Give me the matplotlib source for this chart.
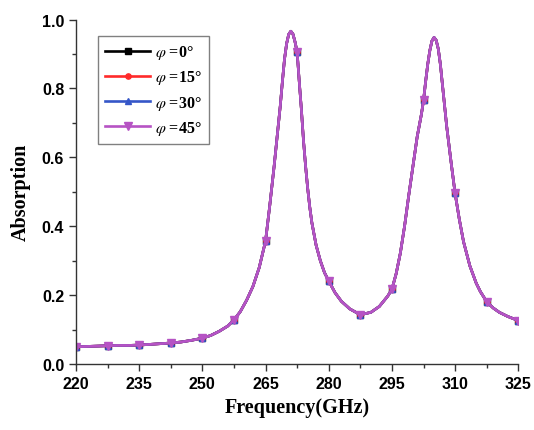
import numpy as np
import matplotlib
matplotlib.use("Agg")
import matplotlib.pyplot as plt
from matplotlib.ticker import MultipleLocator, AutoMinorLocator

# absorption spectrum (all four angles overlap)
freq = [220, 222.5, 225, 227.5, 230, 232.5, 235, 237.5, 240, 242.5, 245, 247.5,
        250, 252, 254, 256, 257.5, 259, 260.5, 262, 263.5, 265, 266, 267, 268,
        268.5, 269, 269.5, 270, 270.5, 271, 271.5, 272, 272.5, 273, 273.5, 274,
        274.5, 275, 275.5, 276, 277, 278, 279, 280, 281.5, 283, 285, 287.5, 290,
        292, 294, 295, 296, 297, 298, 299, 300, 301, 302, 302.5, 303, 303.5, 304,
        304.5, 305, 305.5, 306, 306.5, 307, 307.5, 308, 309, 310, 311, 312, 313.5,
        315, 316, 317.5, 319, 320.5, 322.5, 325]
absorption = [0.050, 0.051, 0.052, 0.053, 0.054, 0.054, 0.055, 0.057, 0.059, 0.061,
              0.064, 0.069, 0.075, 0.083, 0.095, 0.110, 0.128, 0.152, 0.185, 0.225,
              0.280, 0.357, 0.460, 0.570, 0.690, 0.750, 0.820, 0.885, 0.930, 0.957,
              0.966, 0.958, 0.935, 0.905, 0.820, 0.740, 0.650, 0.575, 0.510, 0.455,
              0.410, 0.345, 0.300, 0.265, 0.241, 0.207, 0.182, 0.160, 0.143, 0.150,
              0.167, 0.197, 0.217, 0.262, 0.322, 0.400, 0.490, 0.575, 0.660, 0.725,
              0.765, 0.820, 0.870, 0.910, 0.938, 0.948, 0.940, 0.915, 0.870, 0.810,
              0.750, 0.690, 0.590, 0.495, 0.420, 0.355, 0.285, 0.235, 0.210, 0.181,
              0.163, 0.150, 0.138, 0.126]

angles = ["0", "15", "30", "45"]
colors = ["black", "#ff2a2a", "#3556c8", "#b653c4"]
markers = ["s", "o", "^", "v"]
msizes = [3.8, 3.8, 4.8, 5.2]

xticks = [220, 235, 250, 265, 280, 295, 310, 325]

plt.rcParams["mathtext.fontset"] = "stix"

fig = plt.figure(figsize=(5.34, 4.31), dpi=100)
ax = fig.add_axes([0.1423, 0.1531, 0.8283, 0.7993])

f = np.array(freq)
mark_idx = list(np.where(np.isclose((f - 220) % 7.5, 0))[0])

for ang, c, m, ms in zip(angles, colors, markers, msizes):
    ax.plot(freq, absorption, color=c, lw=1.9, marker=m, markersize=ms,
            markevery=mark_idx, label=r"$\varphi$ =" + ang + "°")

ax.set_xlim(220, 325)
ax.set_ylim(0, 1.0)
ax.set_xticks(xticks)
ax.yaxis.set_major_locator(MultipleLocator(0.2))
ax.xaxis.set_minor_locator(AutoMinorLocator(2))
ax.yaxis.set_minor_locator(AutoMinorLocator(2))
ax.yaxis.set_major_formatter(plt.FormatStrFormatter("%.1f"))

for s in ["top", "right"]:
    ax.spines[s].set_visible(False)
for s in ["left", "bottom"]:
    ax.spines[s].set_color("#333333")
    ax.spines[s].set_linewidth(1.0)

ax.tick_params(which="major", direction="out", length=5, width=1, color="#333333")
ax.tick_params(which="minor", direction="out", length=3, width=1, color="#333333")
for lab in ax.get_xticklabels() + ax.get_yticklabels():
    lab.set_fontfamily("Liberation Sans")
    lab.set_fontweight("bold")
    lab.set_fontsize(11.5)

ax.set_xlabel("Frequency(GHz)", fontfamily="Liberation Serif", fontweight="bold", fontsize=14.5)
ax.set_ylabel("Absorption", fontfamily="Liberation Serif", fontweight="bold", fontsize=14.5)
ax.xaxis.set_label_coords(0.5, -0.096)
ax.yaxis.set_label_coords(-0.102, 0.5)

leg = ax.legend(loc="upper left", bbox_to_anchor=(0.05, 0.952), borderaxespad=0,
                fancybox=False, edgecolor="#808080", framealpha=1,
                handlelength=2.8, handletextpad=0.3, labelspacing=0.45,
                borderpad=0.45,
                prop={"family": "Liberation Serif", "weight": "bold", "size": 11.5})
leg.get_frame().set_linewidth(1.0)

fig.savefig("out.png", dpi=100)
